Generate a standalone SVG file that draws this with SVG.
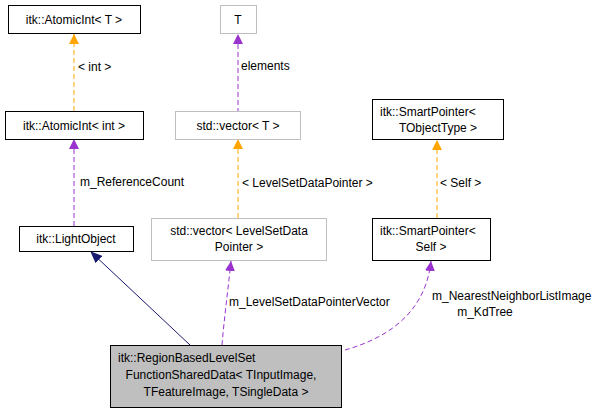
<svg xmlns="http://www.w3.org/2000/svg" width="609" height="416" viewBox="0 0 609 416">
<style>
text{font-family:"Liberation Sans",Arial,sans-serif;font-size:12px;fill:#000}
.n{fill:#fff;stroke:#000;stroke-width:1}
.g{fill:#fff;stroke:#bfbfbf;stroke-width:1}
.o{fill:none;stroke:#ffa500;stroke-dasharray:5,3}
.p{fill:none;stroke:#9a32cd;stroke-dasharray:5,3}
.b{fill:none;stroke:#191970}
</style>
<defs>
<marker id="ao" markerWidth="10" markerHeight="10" refX="10" refY="5" orient="auto" markerUnits="userSpaceOnUse"><path d="M0,0L10,5L0,10z" fill="#ffa500"/></marker>
<marker id="ap" markerWidth="10" markerHeight="10" refX="10" refY="5" orient="auto" markerUnits="userSpaceOnUse"><path d="M0,0L10,5L0,10z" fill="#9a32cd"/></marker>
<marker id="ab" markerWidth="12" markerHeight="10" refX="11" refY="5" orient="auto" markerUnits="userSpaceOnUse"><path d="M0,0L12,5L0,10z" fill="#191970"/></marker>
</defs>
<g id="edges">
<path class="o" d="M74,111V34" marker-end="url(#ao)"/><text x="78" y="71">&lt; int &gt;</text>
<path class="p" d="M74,226V139" marker-end="url(#ap)"/><text x="80" y="186">m_ReferenceCount</text>
<path class="b" d="M190,345L91,252" marker-end="url(#ab)"/>
<path class="p" d="M238,113V34" marker-end="url(#ap)"/><text x="241" y="70">elements</text>
<path class="o" d="M238,218V139" marker-end="url(#ao)"/><text x="242" y="187">&lt; LevelSetDataPointer &gt;</text>
<path class="p" d="M222,345C224,320 228,290 231,261" marker-end="url(#ap)"/><text x="229" y="306">m_LevelSetDataPointerVector</text>
<path class="o" d="M437,218V140" marker-end="url(#ao)"/><text x="440" y="187">&lt; Self &gt;</text>
<path class="p" d="M345,350C380,340 425,318 431,261" marker-end="url(#ap)"/><text x="432" y="300">m_NearestNeighborListImage</text><text x="485" y="316" text-anchor="middle">m_KdTree</text>
</g>
<g id="n1"><rect class="n" x="8.5" y="5.5" width="132" height="28"/><text x="74" y="24" text-anchor="middle">itk::AtomicInt&lt; T &gt;</text></g>
<g id="n2"><rect class="n" x="5.5" y="111.5" width="138" height="28"/><text x="74" y="130" text-anchor="middle">itk::AtomicInt&lt; int &gt;</text></g>
<g id="n3"><rect class="n" x="19.5" y="226.5" width="114" height="25"/><text x="76" y="243" text-anchor="middle">itk::LightObject</text></g>
<g id="n4"><rect class="g" x="220.5" y="5.5" width="36" height="28"/><text x="238" y="24" text-anchor="middle">T</text></g>
<g id="n5"><rect class="g" x="175.5" y="111.5" width="125" height="28"/><text x="238" y="130" text-anchor="middle">std::vector&lt; T &gt;</text></g>
<g id="n6"><rect class="g" x="151.5" y="218.5" width="175" height="42"/><text x="239" y="235" text-anchor="middle">std::vector&lt; LevelSetData</text><text x="239" y="251" text-anchor="middle">Pointer &gt;</text></g>
<g id="n7"><rect class="n" x="372.5" y="99.5" width="131" height="40"/><text x="380" y="116">itk::SmartPointer&lt;</text><text x="438" y="132" text-anchor="middle">TObjectType &gt;</text></g>
<g id="n8"><rect class="n" x="372.5" y="218.5" width="118" height="42"/><text x="380" y="235">itk::SmartPointer&lt;</text><text x="431" y="251" text-anchor="middle">Self &gt;</text></g>
<g id="main"><rect x="110.5" y="345.5" width="231" height="62" fill="#bfbfbf" stroke="#000"/><text x="118" y="362">itk::RegionBasedLevelSet</text><text x="221" y="379" text-anchor="middle">FunctionSharedData&lt; TInputImage,</text><text x="226" y="396" text-anchor="middle">TFeatureImage, TSingleData &gt;</text></g>
</svg>
